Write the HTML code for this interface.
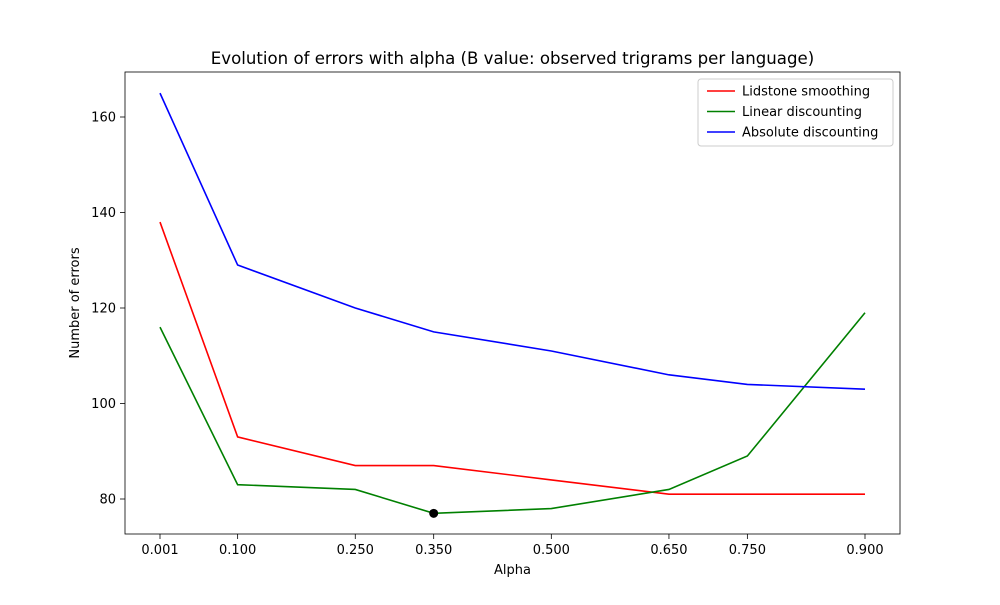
<!DOCTYPE html>
<html><head><meta charset="utf-8"><style>
body{margin:0;background:#fff;font-family:"Liberation Sans","DejaVu Sans",sans-serif}
</style></head><body>
<svg width="1000" height="600" xmlns="http://www.w3.org/2000/svg" font-family="DejaVu Sans, Liberation Sans, sans-serif">
<rect width="1000" height="600" fill="#fff"/>
<g id="plot"></g>
</svg>
<script>
const alphas=[0.001,0.1,0.25,0.35,0.5,0.65,0.75,0.9];
const tickLabels=["0.001","0.100","0.250","0.350","0.500","0.650","0.750","0.900"];
const yTicks=[80,100,120,140,160];
const lidstone=[138,93,87,87,84,81,81,81];
const linear=[116,83,82,77,78,82,89,119];
const absolute=[165,129,120,115,111,106,104,103];
const bestPoint=[0.35,77];
const seriesNames=["Lidstone smoothing","Linear discounting","Absolute discounting"];

const L=125,R=900,T=72,B=534;
const x0=0.001,px0=160,x1=0.9,px1=865;
const y0=80,py0=499,y1=160,py1=117;
const sx=v=>px0+(v-x0)*(px1-px0)/(x1-x0);
const sy=v=>py0+(v-y0)*(py1-py0)/(y1-y0);
const NS="http://www.w3.org/2000/svg";
const g=document.getElementById('plot');
function mk(t,a,txt){const e=document.createElementNS(NS,t);for(const k in a)e.setAttribute(k,a[k]);if(txt!=null)e.textContent=txt;g.appendChild(e);return e;}

alphas.forEach((a,i)=>{
  const x=sx(a);
  const t=mk('line',{x1:x,x2:x,y1:B,y2:B+5,stroke:'#000','stroke-width':0.8});
  
  
  const l=mk('text',{x:x,y:B+20,'font-size':13,'text-anchor':'middle'},tickLabels[i]);
  
  
});
yTicks.forEach(v=>{
  const y=sy(v);
  const t=mk('line',{x1:L-5,x2:L,y1:y,y2:y,stroke:'#000','stroke-width':0.8});
  
  
  const l=mk('text',{x:L-9,y:y+4.5,'font-size':13,'text-anchor':'end'},String(v));
  
  
});
const colors=['#ff0000','#008000','#0000ff'];
[lidstone,linear,absolute].forEach((s,k)=>{
  const p=mk('polyline',{points:s.map((v,i)=>sx(alphas[i])+','+sy(v)).join(' '),fill:'none',stroke:colors[k],'stroke-width':1.6});
  
  
});
const d=mk('circle',{cx:sx(bestPoint[0]),cy:sy(bestPoint[1]),r:4.5,fill:'#000'});


const fr=mk('rect',{x:L,y:T,width:R-L,height:B-T,fill:'none',stroke:'#000','stroke-width':0.8});


const ti=mk('text',{x:512.5,y:64,'font-size':16.6,'text-anchor':'middle'},'Evolution of errors with alpha (B value: observed trigrams per language)');


const xt=mk('text',{x:512.5,y:574,'font-size':13,'text-anchor':'middle'},'Alpha');


const yt=mk('text',{x:79,y:303,'font-size':13,'text-anchor':'middle',transform:'rotate(-90 79 303)'},'Number of errors');


const lg=mk('rect',{x:698,y:79,width:195,height:67,rx:3,fill:'#fff',stroke:'#ccc','stroke-width':1});


seriesNames.forEach((n,k)=>{
  const y=91+k*20.5;
  const ln=mk('line',{x1:707,x2:735,y1:y,y2:y,stroke:colors[k],'stroke-width':1.6});
  
  
  const tx=mk('text',{x:742,y:y+4.5,'font-size':13},n);
  
  
});
</script>
</body></html>
